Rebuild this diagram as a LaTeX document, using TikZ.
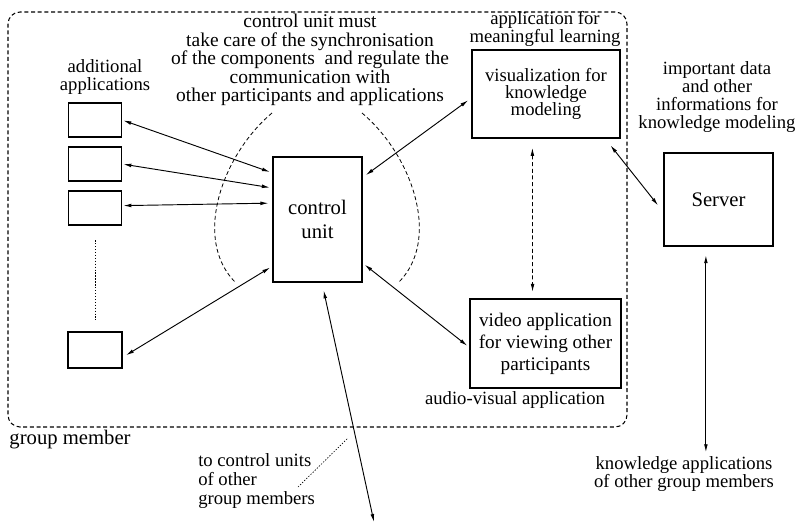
\documentclass[tikz,border=0pt]{standalone}
\usepackage{fontspec}
\setmainfont{Liberation Serif}
\usetikzlibrary{arrows.meta, positioning}

\begin{document}
\begin{tikzpicture}[
  x=0.75pt, y=-0.75pt,
  >={Latex[length=6pt,width=2.8pt]},
  lbl/.style={font=\fontsize{14}{13.5}\selectfont, align=center, inner sep=0pt},
  box/.style={draw, line width=0.8pt, inner sep=0pt, align=center,
    font=\fontsize{14}{13}\selectfont},
  appbox/.style={box, minimum width=39.75pt, minimum height=25.5pt},
  frame/.style={draw, dash pattern=on 3pt off 2pt, line width=0.8pt,
    rounded corners=9pt},
  link/.style={<->, line width=0.7pt},
  dlink/.style={<->, dash pattern=on 3pt off 2pt, line width=0.6pt},
  thin dots/.style={dash pattern=on 1pt off 1.2pt, line width=0.5pt},
]
\useasboundingbox (0,0) rectangle (801,526);

% group member frame
\node[frame, minimum width=464.25pt, minimum height=311.25pt] (member) at (317.5,219.5) {};
\node[font=\fontsize{15.5}{15.5}\selectfont, inner sep=0pt] (memberlbl) at (70,440) {group member};

% additional applications
\node[lbl] (addlbl) at (105,77) {additional\\applications};
\node[appbox] (app1) at (95,120) {};
\node[appbox] (app2) at (95,164) {};
\node[appbox] (app3) at (95,208) {};
\node[appbox, minimum width=40.5pt, minimum height=27pt] (app4) at (95,350) {};
\draw[thin dots] (app3.south) -- (app4.north) [shorten <=11pt, shorten >=9pt];

% control unit
\node[box, minimum width=66.75pt, minimum height=93.75pt,
  font=\fontsize{15.5}{18.5}\selectfont] (ctrl) at (317.5,219.5) {control\\unit};
\node[lbl, font=\fontsize{14.6}{13.8}\selectfont] (ctrlnote) at (310,60) {control unit must\\take care of the synchronisation\\
  of the components \ and regulate the\\communication with\\other participants and applications};
\draw[dash pattern=on 3pt off 2pt, line width=0.6pt] (272,113) .. controls (222,155) and (192,240) .. (236,283);
\draw[dash pattern=on 3pt off 2pt, line width=0.6pt] (362,113) .. controls (412,155) and (442,240) .. (398,283);

% meaningful learning
\node[lbl] (mllbl) at (545,29) {application for\\meaningful learning};
\node[box, minimum width=111pt, minimum height=66pt] (vis) at (546,94)
  {visualization for\\knowledge\\modeling};

% audio-visual
\node[box, minimum width=113.25pt, minimum height=66.75pt,
  font=\fontsize{14.4}{16.5}\selectfont] (video) at (545.5,343.5)
  {video application\\for viewing other\\participants};
\node[lbl] (avlbl) at (515,400) {audio-visual application};

% server
\node[box, minimum width=81.75pt, minimum height=69.75pt,
  font=\fontsize{15.5}{15.5}\selectfont] (server) at (718.5,199.5) {Server};
\node[lbl] (datalbl) at (717,97) {important data\\and other\\informations for\\knowledge modeling};
\node[lbl] (kapps) at (684,474) {knowledge applications\\of other group members};

% other group members
\node[lbl, align=left, anchor=west, font=\fontsize{14}{14.5}\selectfont] (otherlbl) at (198,481)
  {to control units\\of other\\group members};
\coordinate (ext) at (374,522);
\coordinate (lead1) at (298,487);
\coordinate (lead2) at (348,438);

% connections
\draw[link] (app1.east) -- (ctrl.134) [shorten <=1pt, shorten >=2pt];
\draw[link] (app2.east) -- (ctrl.145) [shorten <=1pt, shorten >=2pt];
\draw[link] (app3.5) -- (ctrl.160) [shorten <=1pt, shorten >=3pt];
\draw[link] (app4.-15) -- (ctrl.226) [shorten <=3pt, shorten >=2pt];
\draw[link] (ctrl.43) -- (vis.183) [shorten <=3pt, shorten >=3pt];
\draw[link] (ctrl.-44) -- (video.183) [shorten <=2pt, shorten >=2pt];
\draw[dlink] (vis.253) -- (video.106) [shorten <=7pt, shorten >=5pt];
\draw[link] (vis.-37) -- (server.193) [shorten <=6.5pt, shorten >=6.5pt];
\draw[link] (server.255) -- (server.255 |- kapps.north) [shorten <=6.5pt, shorten >=3pt];
\draw[link] (ctrl.-86) -- (ext) [shorten <=6pt];
\draw[thin dots] (lead1) -- (lead2);

\end{tikzpicture}
\end{document}
